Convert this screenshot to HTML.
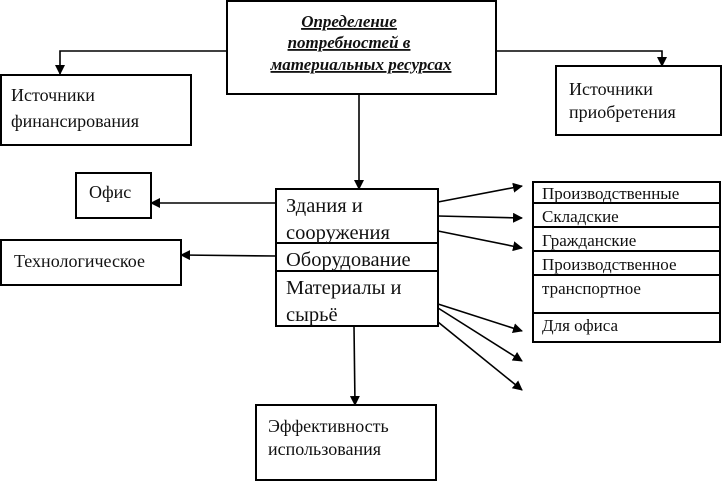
<!DOCTYPE html>
<html><head><meta charset="utf-8"><style>
html,body{margin:0;padding:0;background:#fff;}
svg{display:block;}
text{font-family:"Liberation Serif",serif;fill:#111;}
</style></head><body>
<svg width="722" height="481" viewBox="0 0 722 481" xmlns="http://www.w3.org/2000/svg">
<defs>
<marker id="a" markerWidth="10" markerHeight="10" refX="9" refY="5" orient="auto" markerUnits="userSpaceOnUse">
<path d="M0,0 L10,5 L0,10 z" fill="#000"/></marker>
</defs>
<g fill="none" stroke="#000" stroke-width="2">
<rect x="227" y="1" width="269" height="93"/>
<rect x="1" y="75" width="190" height="70"/>
<rect x="556" y="66" width="165" height="69"/>
<rect x="76" y="173" width="75" height="45"/>
<rect x="1" y="240" width="180" height="45"/>
<rect x="276" y="189" width="162" height="137"/>
<line x1="276" y1="243" x2="438" y2="243"/>
<line x1="276" y1="271" x2="438" y2="271"/>
<rect x="533" y="182" width="187" height="160"/>
<line x1="533" y1="203" x2="720" y2="203"/>
<line x1="533" y1="227" x2="720" y2="227"/>
<line x1="533" y1="251" x2="720" y2="251"/>
<line x1="533" y1="275" x2="720" y2="275"/>
<line x1="533" y1="313" x2="720" y2="313"/>
<rect x="256" y="405" width="180" height="75"/>
</g>
<g fill="none" stroke="#000" stroke-width="1.6">
<polyline points="227,51 60,51 60,74" marker-end="url(#a)"/>
<polyline points="496,51 662,51 662,66" marker-end="url(#a)"/>
<line x1="359" y1="94" x2="359" y2="189" marker-end="url(#a)"/>
<line x1="276" y1="203" x2="151" y2="203" marker-end="url(#a)"/>
<line x1="276" y1="256" x2="181" y2="255" marker-end="url(#a)"/>
<line x1="354" y1="326" x2="355" y2="405" marker-end="url(#a)"/>
<line x1="438" y1="202" x2="522" y2="186" marker-end="url(#a)"/>
<line x1="438" y1="216" x2="522" y2="218" marker-end="url(#a)"/>
<line x1="438" y1="231" x2="522" y2="248" marker-end="url(#a)"/>
<line x1="438" y1="304" x2="522" y2="331" marker-end="url(#a)"/>
<line x1="438" y1="308" x2="522" y2="361" marker-end="url(#a)"/>
<line x1="438" y1="322" x2="522" y2="390" marker-end="url(#a)"/>
</g>
<g font-size="17" font-weight="bold" font-style="italic" text-anchor="middle" text-decoration="underline">
<text x="349" y="27" text-decoration="underline">Определение</text>
<text x="349" y="48" text-decoration="underline">потребностей в</text>
<text x="361" y="70" text-decoration="underline">материальных ресурсах</text>
</g>
<g font-size="18">
<text x="11" y="101">Источники</text>
<text x="11" y="127">финансирования</text>
<text x="569" y="95">Источники</text>
<text x="569" y="118">приобретения</text>
<text x="89" y="198">Офис</text>
<text x="14" y="267">Технологическое</text>
<text x="268" y="432">Эффективность</text>
<text x="268" y="455">использования</text>
</g>
<g font-size="20.5">
<text x="286" y="212">Здания и</text>
<text x="286" y="239">сооружения</text>
<text x="286" y="266">Оборудование</text>
<text x="286" y="294">Материалы и</text>
<text x="286" y="321">сырьё</text>
</g>
<g font-size="17">
<text x="542" y="199">Производственные</text>
<text x="542" y="222">Складские</text>
<text x="542" y="246">Гражданские</text>
<text x="542" y="270">Производственное</text>
<text x="542" y="294">транспортное</text>
<text x="542" y="331">Для офиса</text>
</g>
</svg>
</body></html>
